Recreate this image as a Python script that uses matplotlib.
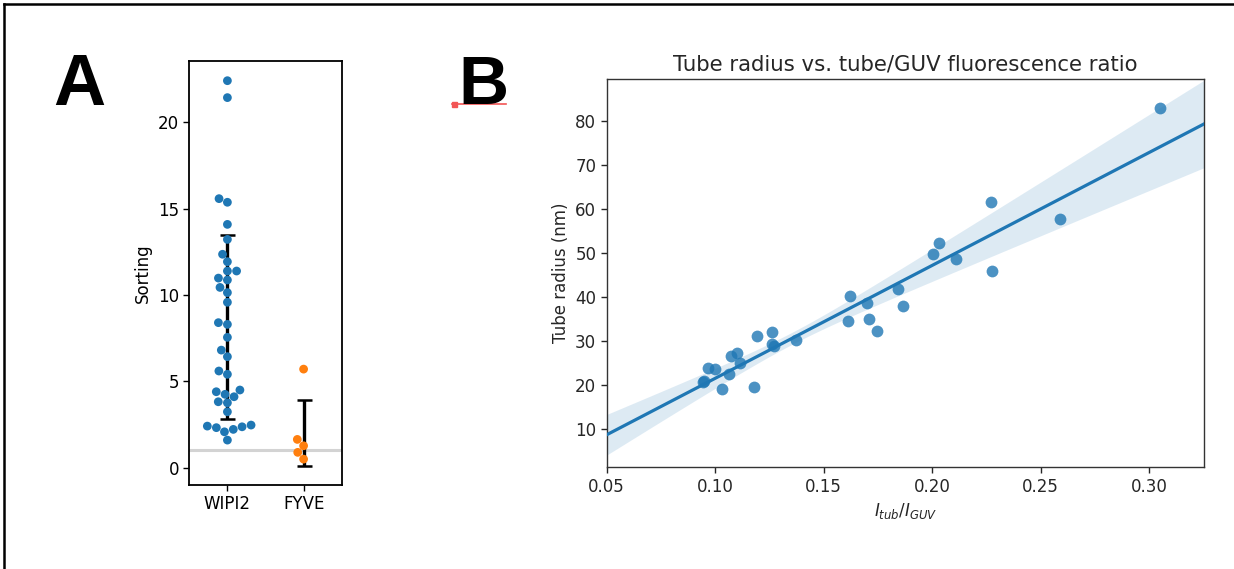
import numpy as np
import matplotlib
matplotlib.use("Agg")
import matplotlib.pyplot as plt
from matplotlib.lines import Line2D
import seaborn as sns

# ---------------- data ----------------
# Panel A: sorting values
wipi2_sorting = [22.41, 21.43, 15.58, 15.37, 14.09, 13.22, 12.36, 11.93, 11.39, 11.39,
                 10.98, 10.87, 10.44, 10.14, 9.58, 8.40, 8.30, 7.55, 6.81, 6.43,
                 5.60, 5.41, 4.25, 4.40, 4.50, 3.82, 3.76, 4.11, 3.24, 2.47,
                 2.37, 2.08, 2.22, 2.32, 2.41, 1.60]
fyve_sorting = [5.71, 1.64, 1.27, 0.89, 0.50]
categories = ["WIPI2", "FYVE"]
reference_level = 1.0

# Panel B: tube radius vs fluorescence ratio
ratio = [0.3052, 0.2271, 0.2588, 0.2034, 0.2002, 0.2111, 0.2274, 0.1621, 0.1842, 0.1701,
         0.1865, 0.1612, 0.1707, 0.1747, 0.1195, 0.1264, 0.1264, 0.1272, 0.1373, 0.1100,
         0.1072, 0.1115, 0.0969, 0.1000, 0.1066, 0.0943, 0.0950, 0.1032, 0.1181]
radius = [82.9, 61.5, 57.7, 52.3, 49.7, 48.6, 46.0, 40.1, 41.7, 38.6,
          37.9, 34.6, 34.9, 32.3, 31.1, 32.1, 29.4, 28.9, 30.2, 27.3,
          26.6, 25.1, 23.8, 23.6, 22.5, 20.7, 21.0, 19.0, 19.6]

W, H = 1234, 569
fig = plt.figure(figsize=(W / 100, H / 100), dpi=100)
fig.patch.set_facecolor("white")

# ---------------- Panel A ----------------
axA = fig.add_axes([189.3 / W, 1 - 485 / H, 152.4 / W, 424 / H])
labels = [categories[0]] * len(wipi2_sorting) + [categories[1]] * len(fyve_sorting)
values = wipi2_sorting + fyve_sorting
axA.axhline(reference_level, color="#d3d3d3", lw=2.2, zorder=0)
means = [np.mean(wipi2_sorting), np.mean(fyve_sorting)]
sds = [np.std(wipi2_sorting), np.std(fyve_sorting)]
axA.errorbar([0, 1], means, yerr=sds, fmt="none", ecolor="black", elinewidth=2.4,
             capsize=5.4, capthick=1.8, zorder=1)
sns.swarmplot(x=labels, y=values, hue=labels, palette=["#1f77b4", "#ff7f0e"],
              size=6.3, legend=False, ax=axA, zorder=3)
axA.set_xlim(-0.5, 1.5)
axA.set_ylim(-1.0, 23.55)
axA.set_yticks([0, 5, 10, 15, 20])
axA.set_ylabel("Sorting", fontsize=12)
axA.tick_params(labelsize=12, length=4, width=1)
for s in axA.spines.values():
    s.set_linewidth(1.3)
    s.set_color("black")

# ---------------- Panel B ----------------
axB = fig.add_axes([606.7 / W, 1 - 467.3 / H, 597.6 / W, 388.3 / H])
xr = np.asarray(ratio)
yr = np.asarray(radius)
xlim = (0.05, 0.3255)
axB.set_xlim(*xlim)
axB.set_ylim(1.3, 89.5)
slope, intercept = np.polyfit(xr, yr, 1)
grid = np.linspace(xlim[0], xlim[1], 200)
pred = slope * grid + intercept
# 95% confidence band using heteroscedasticity-robust (HC3) covariance
X = np.column_stack([np.ones_like(xr), xr])
resid = yr - X @ np.array([intercept, slope])
bread = np.linalg.inv(X.T @ X)
lev = np.einsum("ij,jk,ik->i", X, bread, X)
meat = X.T @ (X * (resid ** 2 / (1 - lev) ** 2)[:, None])
cov = bread @ meat @ bread
G = np.column_stack([np.ones_like(grid), grid])
se = np.sqrt(np.einsum("ij,jk,ik->i", G, cov, G))
half = 1.96 * se
axB.fill_between(grid, pred - half, pred + half, color="#1f77b4", alpha=0.15, lw=0)
axB.scatter(xr, yr, s=72, color="#1f77b4", alpha=0.8, lw=0, zorder=3)
axB.plot(grid, pred, color="#1f77b4", lw=2.3, zorder=4)
axB.set_xticks([0.05, 0.10, 0.15, 0.20, 0.25, 0.30])
axB.set_xticklabels(["0.05", "0.10", "0.15", "0.20", "0.25", "0.30"])
axB.set_yticks([10, 20, 30, 40, 50, 60, 70, 80])
axB.tick_params(labelsize=12, length=4, width=1, colors="#262626")
axB.set_xlabel(r"$I_{tub}/I_{GUV}$", fontsize=12, color="#262626")
axB.set_ylabel("Tube radius (nm)", fontsize=12, color="#262626")
axB.set_title("Tube radius vs. tube/GUV fluorescence ratio", fontsize=15.3, color="#262626")
for s in axB.spines.values():
    s.set_linewidth(1.0)
    s.set_color("#333333")

# ---------------- panel letters ----------------
fig.text(53 / W, 1 - 105 / H, "A", fontsize=52, fontweight="bold",
         family=["Liberation Sans", "DejaVu Sans"], ha="left", va="baseline")
fig.text(458 / W, 1 - 104 / H, "B", fontsize=50, fontweight="bold",
         family=["Liberation Sans", "DejaVu Sans"], ha="left", va="baseline")
fig.add_artist(Line2D([452 / W, 506 / W], [1 - 103.5 / H] * 2, color="#f25555", lw=1.2))
fig.add_artist(Line2D([454 / W], [1 - 104 / H], marker="s", ms=3.6, color="#f25555", lw=0))

# ---------------- frame border ----------------
fig.add_artist(Line2D([4.3 / W, 1.0], [1 - 4.3 / H] * 2, color="black", lw=1.8))
fig.add_artist(Line2D([4.3 / W] * 2, [0.0, 1 - 4.3 / H], color="black", lw=1.8))

fig.savefig("out.png", dpi=100)
